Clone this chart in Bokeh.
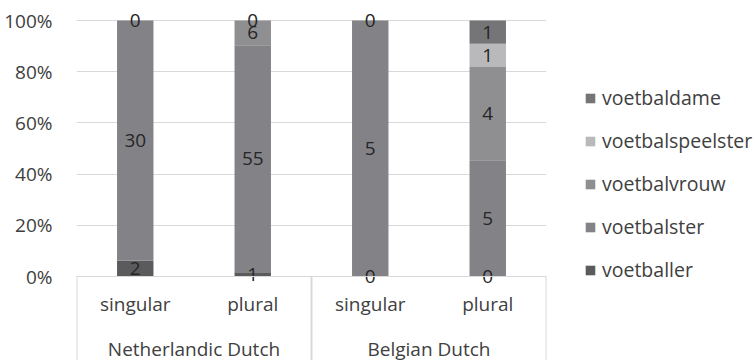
from bokeh.plotting import figure
from bokeh.models import (FactorRange, ColumnDataSource, FixedTicker, Legend, LegendItem,
                          NumeralTickFormatter, Range1d)
from bokeh.core.properties import value
from bokeh.embed import file_html
from bokeh.resources import INLINE

# ---- data ----
varieties = ["Netherlandic Dutch", "Belgian Dutch"]
numbers = ["singular", "plural"]
series = ["voetballer", "voetbalster", "voetbalvrouw", "voetbalspeelster", "voetbaldame"]
colors = ["#5b5b5e", "#838387", "#8f8f92", "#b9b9bb", "#757578"]
# counts per bar: NL singular, NL plural, BE singular, BE plural (None = not shown)
voetballer = [2, 1, 0, 0]
voetbalster = [30, 55, 5, 5]
voetbalvrouw = [0, 6, 0, 4]
voetbalspeelster = [None, 0, None, 1]
voetbaldame = [None, None, None, 1]
y_ticks = [0, 0.2, 0.4, 0.6, 0.8, 1.0]

counts = [voetballer, voetbalster, voetbalvrouw, voetbalspeelster, voetbaldame]
factors = [(v, n) for v in varieties for n in numbers]
totals = [sum(c[i] for c in counts if c[i] is not None) for i in range(len(factors))]

data = {"x": factors}
for name, c in zip(series, counts):
    data[name] = [(c[i] or 0) / totals[i] for i in range(len(factors))]
src = ColumnDataSource(data)

# label positions
lx, ly, lt = [], [], []
for i, f in enumerate(factors):
    cum = 0.0
    for c in counts:
        if c[i] is None:
            continue
        frac = c[i] / totals[i]
        lx.append(f)
        ly.append(cum + frac / 2)
        lt.append(str(c[i]))
        cum += frac
lab_src = ColumnDataSource(dict(x=lx, y=ly, t=lt))

FONT = "Open Sans"
TXT = "#404040"
GRID = "#d9d9d9"
PX = 1 / 256  # one pixel in y data units (100% spans 256 px)

p = figure(frame_width=470, frame_height=360, output_backend="svg", toolbar_location=None,
           x_range=FactorRange(*factors, group_padding=0, factor_padding=0, range_padding=0),
           y_range=Range1d(-84 * PX, 1 + 20 * PX),
           min_border_left=76, min_border_right=209, min_border_top=0, min_border_bottom=0)
p.outline_line_color = None
p.background_fill_color = "white"
p.border_fill_color = "white"

renderers = p.vbar_stack(series, x="x", width=0.31, color=colors, source=src, line_color=None)

p.text(x="x", y="y", text="t", source=lab_src, text_font=value(FONT), text_font_size="19px",
       text_align="center", text_baseline="middle", text_color="#262626")

# group labels (top-level factors) and divider lines below the axis
p.text(x=varieties, y=[-72 * PX] * len(varieties), text=varieties, text_font=value(FONT),
       text_font_size="19px", text_align="center", text_baseline="middle", text_color=TXT)
n_sub = len(numbers)
edges = [k * n_sub for k in range(len(varieties) + 1)]
p.segment(x0=edges, y0=[0] * len(edges), x1=edges, y1=[-84 * PX] * len(edges),
          line_color=GRID, line_width=2)

# y axis
p.yaxis.ticker = FixedTicker(ticks=y_ticks)
p.yaxis.formatter = NumeralTickFormatter(format="0%")
p.yaxis.axis_line_color = None
p.yaxis.major_tick_line_color = None
p.yaxis.minor_tick_line_color = None
p.yaxis.major_label_standoff = 18
p.yaxis.major_label_text_font = FONT
p.yaxis.major_label_text_font_size = "19px"
p.yaxis.major_label_text_color = TXT

p.ygrid.ticker = FixedTicker(ticks=y_ticks)
p.ygrid.grid_line_color = GRID
p.xgrid.grid_line_color = None

# x axis
xa = p.xaxis[0]
xa.fixed_location = 0
xa.axis_line_color = GRID
xa.major_tick_line_color = None
xa.separator_line_color = None
xa.major_label_standoff = 8
xa.major_label_text_font = FONT
xa.major_label_text_font_size = "19px"
xa.major_label_text_color = TXT
xa.group_text_color = None

items = [LegendItem(label=s, renderers=[r]) for s, r in zip(series, renderers)][::-1]
legend = Legend(items=items, location=(38, 77), padding=0, margin=0, spacing=16,
                glyph_width=12, glyph_height=12, label_standoff=6, label_height=26,
                label_text_font=FONT, label_text_font_size="19.5px", label_text_color=TXT,
                border_line_color=None, background_fill_color=None)
p.add_layout(legend, "right")

open("out.html", "w").write(file_html(p, INLINE))
